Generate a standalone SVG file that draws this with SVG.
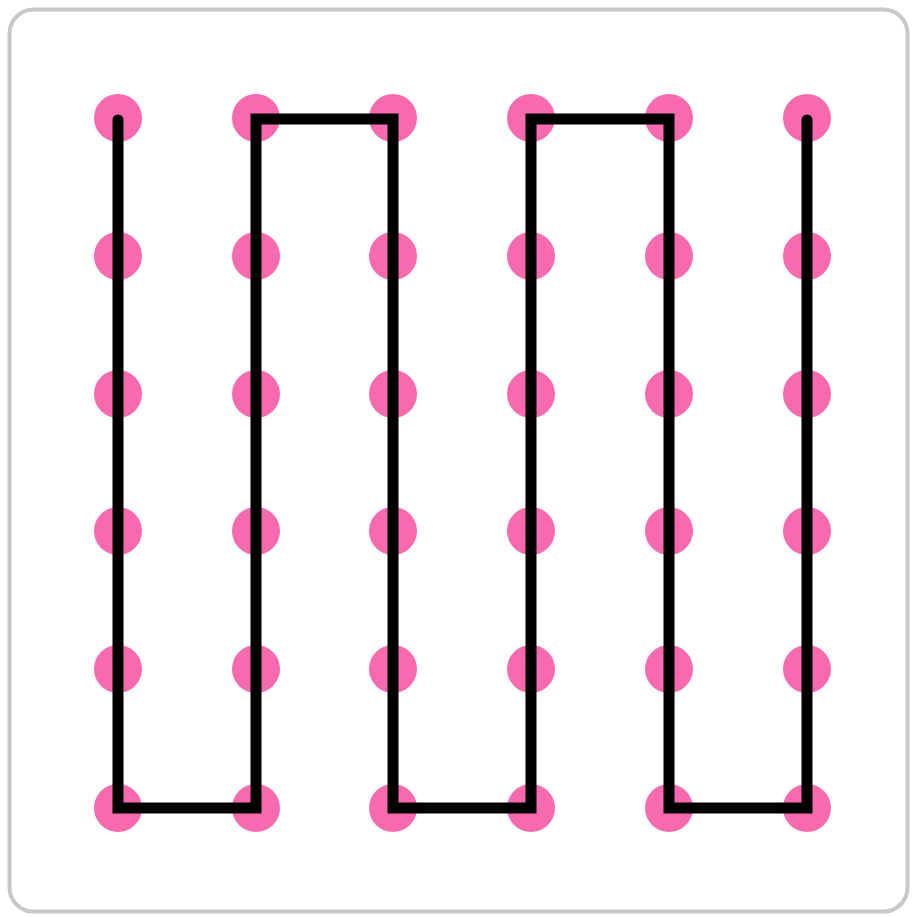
<svg xmlns="http://www.w3.org/2000/svg" width="912" height="918" viewBox="0 0 912 918">
<style>
.dot{fill:#f76aae}
.path{fill:none;stroke:#000;stroke-width:11;stroke-linecap:round;stroke-linejoin:miter}
</style>
<rect x="9.5" y="9.5" width="898" height="902" rx="24" fill="#fff" stroke="#c8c8c8" stroke-width="4"/>
<g id="dots">
<g id="r0"><circle class="dot" cx="118" cy="118" r="24"/><circle class="dot" cx="256" cy="118" r="24"/><circle class="dot" cx="393" cy="118" r="24"/><circle class="dot" cx="531" cy="118" r="24"/><circle class="dot" cx="669" cy="118" r="24"/><circle class="dot" cx="807" cy="118" r="24"/></g>
<g id="r1"><circle class="dot" cx="118" cy="256" r="24"/><circle class="dot" cx="256" cy="256" r="24"/><circle class="dot" cx="393" cy="256" r="24"/><circle class="dot" cx="531" cy="256" r="24"/><circle class="dot" cx="669" cy="256" r="24"/><circle class="dot" cx="807" cy="256" r="24"/></g>
<g id="r2"><circle class="dot" cx="118" cy="394" r="24"/><circle class="dot" cx="256" cy="394" r="24"/><circle class="dot" cx="393" cy="394" r="24"/><circle class="dot" cx="531" cy="394" r="24"/><circle class="dot" cx="669" cy="394" r="24"/><circle class="dot" cx="807" cy="394" r="24"/></g>
<g id="r3"><circle class="dot" cx="118" cy="531" r="24"/><circle class="dot" cx="256" cy="531" r="24"/><circle class="dot" cx="393" cy="531" r="24"/><circle class="dot" cx="531" cy="531" r="24"/><circle class="dot" cx="669" cy="531" r="24"/><circle class="dot" cx="807" cy="531" r="24"/></g>
<g id="r4"><circle class="dot" cx="118" cy="669" r="24"/><circle class="dot" cx="256" cy="669" r="24"/><circle class="dot" cx="393" cy="669" r="24"/><circle class="dot" cx="531" cy="669" r="24"/><circle class="dot" cx="669" cy="669" r="24"/><circle class="dot" cx="807" cy="669" r="24"/></g>
<g id="r5"><circle class="dot" cx="118" cy="808" r="24"/><circle class="dot" cx="256" cy="808" r="24"/><circle class="dot" cx="393" cy="808" r="24"/><circle class="dot" cx="531" cy="808" r="24"/><circle class="dot" cx="669" cy="808" r="24"/><circle class="dot" cx="807" cy="808" r="24"/></g>
</g>
<g id="connectors">
<path class="path" d="M118 120 V808 H256 V119 H393 V808 H531 V119 H669 V808 H807 V120"/>
</g>
</svg>
